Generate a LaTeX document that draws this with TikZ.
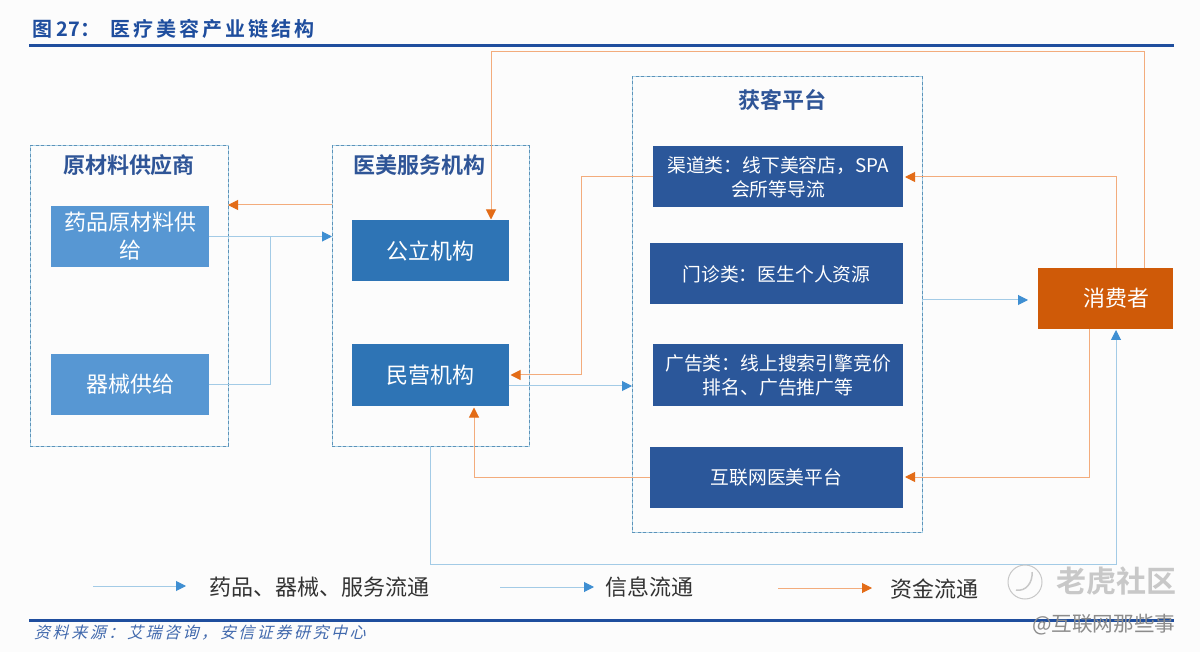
\documentclass[tikz,border=0pt]{standalone}
\usepackage{fontspec}
\usepackage{xcolor}
\usetikzlibrary{arrows.meta, positioning}
\setmainfont{Noto Sans CJK SC}
\newfontfamily\titlefont{Noto Sans CJK SC Bold}
\newfontfamily\spacedfont[LetterSpace=15]{Noto Sans CJK SC Bold}
\newfontfamily\sourcefont[LetterSpace=16,FakeSlant=0.25]{Noto Sans CJK SC}
\newfontfamily\headfont{Noto Sans CJK SC Bold}
\definecolor{rulecolor}{HTML}{1F4E9E}
\definecolor{headcolor}{HTML}{2F5597}
\definecolor{framecolor}{HTML}{A9D2E8}
\definecolor{dashcolor}{HTML}{5C92B8}
\definecolor{lightfill}{HTML}{5797D3}
\definecolor{midfill}{HTML}{2E74B5}
\definecolor{darkfill}{HTML}{2B579A}
\definecolor{orangefill}{HTML}{CF5A08}
\definecolor{orangeline}{HTML}{F3AC7C}
\definecolor{orangetip}{HTML}{E36C17}
\definecolor{blueline}{HTML}{A3CBE6}
\definecolor{bluetip}{HTML}{3F8FD2}
\definecolor{markgray}{HTML}{C8C8C8}

\begin{document}
\begin{tikzpicture}[
  x=1pt, y=-1pt,
  frame/.style={rectangle, draw=framecolor, line width=1pt, outer sep=0pt, inner sep=0pt,
    postaction={draw=dashcolor, line width=1pt, dash pattern=on 3pt off 2.5pt}},
  head/.style={text=headcolor, font=\headfont\fontsize{22}{24}\selectfont, inner sep=0pt},
  box/.style={rectangle, text=white, outer sep=0pt, inner sep=0pt, align=center},
  lightbox/.style={box, fill=lightfill, minimum width=158pt, minimum height=61pt, font=\fontsize{22}{28}\selectfont},
  midbox/.style={box, fill=midfill, minimum width=157pt, minimum height=61pt, font=\fontsize{22}{28}\selectfont},
  darkbox/.style={box, fill=darkfill, minimum height=61pt, font=\fontsize{18.8}{24}\selectfont},
  legend/.style={text=black!80, font=\fontsize{22}{24}\selectfont, inner sep=0pt},
  goods/.style={draw=blueline, line width=1pt, -{Triangle[length=10pt, width=10pt, color=bluetip]}},
  money/.style={draw=orangeline, line width=1pt, -{Triangle[length=10pt, width=10pt, color=orangetip]}},
  plainblue/.style={draw=blueline, line width=1pt},
  rulebar/.style={draw=rulecolor, line width=3pt}
]
\useasboundingbox[fill=black!1] (0,0) rectangle (1200,652);

% Title and rules
\node[anchor=west, text=rulecolor, font=\titlefont\fontsize{20}{22}\selectfont, inner sep=0pt] (title) at (32,29) {图 27：};
\node[anchor=west, text=rulecolor, font=\spacedfont\fontsize{20}{22}\selectfont, inner sep=0pt] (titlename) at (110,29) {医疗美容产业链结构};
\coordinate (ruleA) at (29,46);
\coordinate (ruleB) at (1174,46);
\coordinate (ruleC) at (29,620);
\coordinate (ruleD) at (1174,620);
\draw[rulebar] (ruleA) -- (ruleB);
\draw[rulebar] (ruleC) -- (ruleD);
\node[anchor=west, text=rulecolor!85, font=\sourcefont\fontsize{16}{18}\selectfont, inner sep=0pt] (source) at (34,633) {资料来源：艾瑞咨询，安信证券研究中心};

% Frames
\node[frame, minimum width=198pt, minimum height=300pt] (supplier) at (129,296) {};
\node[frame, minimum width=197pt, minimum height=300pt] (service) at (430.5,296) {};
\node[frame, minimum width=290pt, minimum height=455pt] (platform) at (777,304.5) {};
\node[head, below=8pt of supplier.north] (supplierhead) {原材料供应商};
\node[head, below=8pt of service.north, xshift=-11pt] (servicehead) {医美服务机构};
\node[head, below=12pt of platform.north, xshift=5pt] (platformhead) {获客平台};

% Boxes
\node[lightbox] (drug) at (130,236.5) {药品原材料供\\给};
\node[lightbox, below=87pt of drug] (device) {器械供给};
\node[midbox] (public) at (430,251) {公立机构};
\node[midbox, below=63pt of public] (private) {民营机构};
\node[darkbox, minimum width=250pt] (channel) at (778,177) {渠道类：线下美容店，SPA\\会所等导流};
\node[darkbox, minimum width=253pt, below=36pt of channel.south east, anchor=north east] (clinic) {门诊类：医生个人资源};
\node[darkbox, minimum width=250pt, below=40pt of clinic.south east, anchor=north east] (advert) {广告类：线上搜索引擎竞价\\排名、广告推广等};
\node[darkbox, minimum width=253pt, below=41pt of advert.south east, anchor=north east] (online) {互联网医美平台};
\node[box, fill=orangefill, minimum width=135pt, minimum height=61pt, font=\fontsize{22}{24}\selectfont] (consumer) at (1105.5,298.5) {\hspace*{22pt}消费者};

% Connections
\coordinate (fundsup) at (service.west |- 0,205);
\draw[money] (fundsup) -- (supplier.east |- fundsup);
\draw[goods] (drug.east) -- (service.west |- drug.east);
\coordinate (devicejoin) at (device.east -| 270,0);
\draw[plainblue] (device.east) -- (devicejoin) -- (devicejoin |- drug.east);
\coordinate (topright) at (1144,52);
\coordinate (topleft) at (491,52);
\draw[money, shorten >=1pt] (consumer.north -| topright) -- (topright) -- (topleft) -- (topleft |- public.north);
\coordinate (channelturn) at (581,177);
\draw[money, shorten >=2pt] (channel.west) -- (channelturn) -- (channelturn |- private.east) -- (private.east);
\coordinate (privateout) at ([yshift=-11pt]private.east);
\draw[goods] (privateout) -- (platform.west |- privateout);
\coordinate (onlineturn) at (474,477);
\draw[money, shorten >=2pt] (online.west) -- (online.west -| onlineturn) -- (onlineturn |- private.south);
\coordinate (consumerup) at (1116,177);
\draw[money, shorten >=2pt] (consumer.north -| consumerup) -- (consumerup) -- (channel.east);
\coordinate (consumerdown) at (online.east -| 1089,0);
\draw[money, shorten >=2pt] (consumer.south -| consumerdown) -- (consumerdown) -- (online.east);
\coordinate (platformout) at (1028,300);
\draw[goods] (platform.east |- platformout) -- (platformout);
\coordinate (bottomleft) at (430,564);
\coordinate (bottomright) at (1116,564);
\draw[goods, shorten >=1pt] (service.south -| bottomleft) -- (bottomleft) -- (bottomright) -- (bottomright |- consumer.south);

% Legend
\coordinate (goodsA) at (93,586);
\coordinate (goodsB) at (186,586);
\coordinate (infoA) at (500,587);
\coordinate (infoB) at (594,587);
\coordinate (moneyA) at (778,588);
\coordinate (moneyB) at (872,588);
\draw[goods] (goodsA) -- (goodsB);
\draw[goods] (infoA) -- (infoB);
\draw[money] (moneyA) -- (moneyB);
\node[legend, anchor=west] (goodstext) at (209,587) {药品、器械、服务流通};
\node[legend, anchor=west] (infotext) at (605,587) {信息流通};
\node[legend, anchor=west] (moneytext) at (890,589) {资金流通};

% Watermark
\node[circle, draw=markgray, line width=1pt, minimum size=34pt, inner sep=0pt] (marklogo) at (1025,582) {};
\draw[markgray, line width=1.5pt] (1016,590) .. controls (1026,592) and (1033,582) .. (1032,572);
\node[anchor=west, text=markgray, font=\headfont\fontsize{30}{32}\selectfont, inner sep=0pt] (marktext) at (1056,581) {老虎社区};
\node[anchor=west, text=black!45, font=\fontsize{20.6}{22}\selectfont, inner sep=0pt] (markname) at (1032,625) {@互联网那些事};

\end{tikzpicture}
\end{document}
